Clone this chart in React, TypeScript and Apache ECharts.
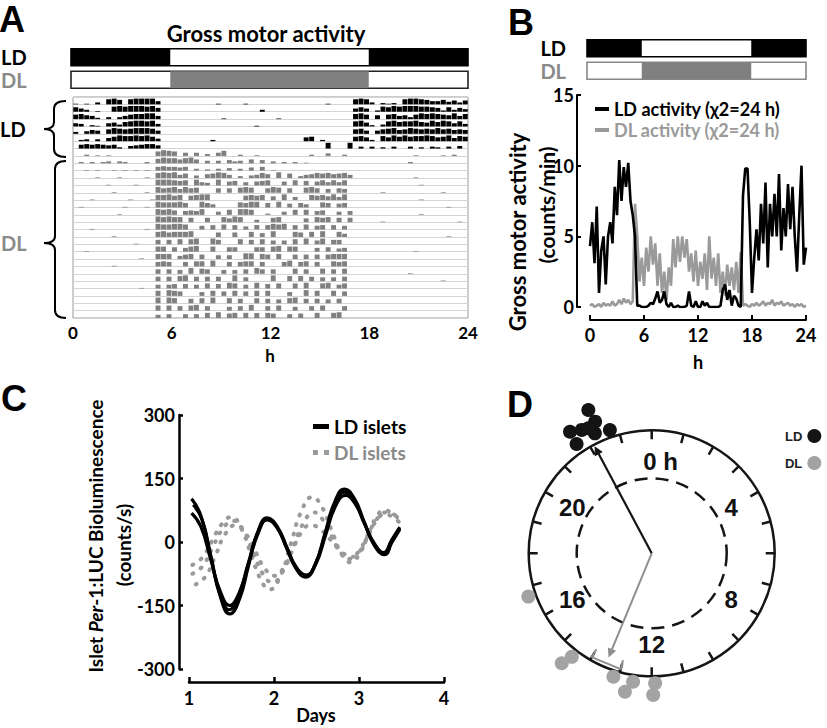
import React, { useEffect, useRef } from 'react';
import * as echarts from 'echarts';

// ---------- Panel A: actogram, 20-min bins (3 per hour), activity height 0-9 ----------
const actoLDRows = [
  '101030 897089 999500 000000 001000 010000 000000 000010 000898 302120 899875 574636',
  '753010 089899 989600 000000 000000 000030 000000 000000 000575 028798 999887 627364',
  '786520 303578 899500 000000 000100 000000 010000 000000 000897 060785 637989 876958',
  '540210 563789 989400 000000 000000 000100 000000 000000 000896 203897 889769 798584',
  '304650 798789 998500 000000 000000 000000 000000 000000 000785 057896 798787 978676',
  '023030 579889 897400 000000 020000 000000 000000 670200 000786 208697 978898 679587',
  '067676 562045 677500 000000 000000 000000 000000 000090 009030 302030 030203 203040',
];
const actoDLRows = [
  '002010 100000 000798 705050 305800 200100 000000 020040 020000 000000 001000 010200',
  '020202 303200 020798 868960 404053 406050 302020 100000 000000 000000 020000 000000',
  '001010 010101 010676 656030 203040 305060 100000 000000 000000 000000 000000 000000',
  '000010 001000 010898 957040 679850 304586 090703 568786 785000 000000 001000 000000',
  '000000 100001 000999 878095 409067 050678 006080 706858 580000 000000 000100 000000',
  '000000 010000 010978 969780 007070 898007 980700 897060 760000 001000 000000 010000',
  '000100 000010 001889 780789 900000 078780 609050 087869 590000 000000 000100 000000',
  '010000 000100 010988 897009 750000 879907 090607 500870 670000 000000 000000 001000',
  '000000 001000 000989 706769 005080 998002 005080 806700 506000 000000 000100 000000',
  '000000 000000 000989 880700 700869 800400 780000 608780 707000 001000 000000 000010',
  '000100 000000 010988 998006 070807 050707 989070 806707 060000 000000 000000 000000',
  '000000 010000 000897 888900 007007 008060 900087 080900 850000 000000 000000 001000',
  '000000 000001 000707 080890 097000 807080 606080 906907 700000 000000 000000 000000',
  '001000 000000 000880 706890 080077 000770 890880 006070 560000 000000 001000 000000',
  '000000 000000 100888 057807 006060 099087 080070 707078 880000 000000 000000 000000',
  '000000 010000 000787 007088 090070 788070 007907 807008 780000 000000 000000 000000',
  '000000 000000 000707 060908 700606 070970 700080 700807 080000 000000 010000 000000',
  '000000 000000 000707 089070 707009 060000 900808 070606 070000 000000 000000 010000',
  '000000 000000 100606 707060 807098 060907 080080 900890 680000 000000 000000 000000',
  '000000 000000 000809 870006 080708 070808 000600 908008 070000 000000 000000 000000',
  '000000 000000 000909 800708 090080 700807 060890 707060 700000 000000 000000 000000',
  '000000 000000 000808 070890 700060 709007 080060 070800 070000 000000 000000 000000',
  '000000 000000 000506 006060 809078 080808 700607 008008 900000 000000 000000 000000',
];
const actoBinsPerHour = 3;

// light schedules (hours of darkness)
const ldDarkSpans = [[0, 6], [18, 24]];
const dlDarkSpans = [[6, 18]];

// ---------- Panel B: mean activity, every 0.25 h ----------
const bStepHours = 0.25;
const bLDActivity = [
  4.3, 6.0, 3.1, 7.1, 1.0, 4.0, 5.0, 1.6, 5.0, 6.0, 4.5, 8.5,
  6.5, 10.4, 7.5, 9.9, 8.5, 10.2, 7.5, 6.5, 5.0, 0.1, 0.1, 0.0,
  0.0, 0.0, 0.1, 0.3, 0.2, 0.6, 1.1, 0.3, 0.5, 1.1, 0.2, 0.0,
  0.3, 0.0, 0.0, 0.1, 0.0, 0.0, 0.0, 0.1, 1.1, 0.1, 0.0, 0.4,
  0.0, 0.0, 0.4, 0.1, 0.3, 0.0, 0.0, 0.0, 0.0, 0.0, 0.1, 1.2,
  1.6, 0.5, 1.2, 0.1, 0.8, 0.6, 0.1, 0.0, 7.9, 9.8, 9.8, 6.0,
  1.0, 3.5, 5.5, 3.3, 7.3, 4.5, 8.8, 2.8, 7.3, 5.0, 8.0, 5.0,
  9.4, 4.0, 7.0, 5.0, 8.7, 5.5, 8.5, 5.0, 2.5, 6.5, 10.0, 3.0,
  4.2,
];
const bDLActivity = [
  0.1, 0.2, 0.0, 0.1, 0.2, 0.0, 0.3, 0.1, 0.2, 0.1, 0.4, 0.1,
  0.2, 0.5, 0.2, 0.6, 0.3, 0.5, 0.2, 0.4, 7.3, 5.0, 1.8, 3.5,
  1.5, 4.2, 2.5, 5.0, 3.0, 4.5, 1.5, 3.8, 1.0, 2.5, 0.5, 2.8,
  1.5, 4.8, 2.8, 5.0, 3.2, 5.0, 3.5, 4.8, 2.5, 3.8, 1.8, 4.0,
  1.5, 3.2, 2.0, 3.8, 1.2, 5.0, 2.0, 3.5, 1.5, 3.8, 1.0, 2.5,
  0.8, 3.0, 1.5, 2.8, 1.2, 3.2, 1.0, 3.9, 0.1, 0.2, 0.1, 0.0,
  0.2, 0.1, 0.3, 0.1, 0.2, 0.4, 0.1, 0.3, 0.2, 0.5, 0.1, 0.3,
  0.2, 0.4, 0.1, 0.2, 0.3, 0.1, 0.2, 0.0, 0.2, 0.1, 0.2, 0.0,
  0.1,
];

// ---------- Panel C: islet bioluminescence [day, counts/s] ----------
const cLDIslets = [
  [[1.03, 102], [1.14, 62], [1.255, -34], [1.37, -130], [1.48, -170], [1.59, -137], [1.70, -56], [1.81, 24], [1.92, 57], [2.03, 37], [2.145, -13], [2.26, -63], [2.37, -83], [2.485, -53], [2.60, 21], [2.715, 95], [2.83, 125], [2.945, 103], [3.06, 48], [3.175, -6], [3.29, -28], [3.385, 3], [3.48, 33]],
  [[1.03, 68], [1.14, 36], [1.255, -41], [1.37, -118], [1.48, -150], [1.59, -120], [1.705, -48], [1.82, 24], [1.93, 55], [2.04, 36], [2.15, -12], [2.26, -61], [2.37, -80], [2.49, -53], [2.605, 15], [2.72, 83], [2.84, 110], [2.955, 90], [3.065, 43], [3.18, -3], [3.29, -25], [3.385, 5], [3.48, 35]],
  [[1.05, 88], [1.155, 52], [1.26, -36], [1.365, -124], [1.47, -160], [1.58, -128], [1.695, -52], [1.81, 24], [1.92, 52], [2.035, 34], [2.15, -13], [2.265, -60], [2.38, -78], [2.49, -50], [2.605, 20], [2.72, 88], [2.83, 118], [2.945, 97], [3.065, 44], [3.18, -7], [3.30, -30], [3.39, 0], [3.48, 30]],
];
const cDLIslets = [
  [[1.04, -54], [1.155, -37], [1.27, 2], [1.385, 42], [1.50, 59], [1.61, 34], [1.725, -26], [1.84, -87], [1.95, -112], [2.075, -80], [2.20, -3], [2.325, 74], [2.45, 106], [2.56, 84], [2.675, 29], [2.79, -26], [2.90, -48], [3.0, -30], [3.10, 14], [3.20, 57], [3.30, 75], [3.39, 68], [3.48, 52]],
  [[1.08, -100], [1.20, -80], [1.315, -30], [1.43, 20], [1.55, 40], [1.66, 22], [1.775, -20], [1.89, -62], [2.00, -80], [2.11, -62], [2.215, -20], [2.32, 22], [2.43, 40], [2.55, 29], [2.675, 3], [2.80, -24], [2.92, -35], [3.015, -20], [3.11, 15], [3.205, 50], [3.30, 65], [3.39, 60], [3.48, 45]],
  [[1.04, -75], [1.16, -57], [1.28, -12], [1.40, 32], [1.52, 50], [1.635, 29], [1.75, -22], [1.865, -74], [1.98, -95], [2.10, -71], [2.225, -12], [2.35, 46], [2.47, 70], [2.57, 54], [2.675, 15], [2.78, -24], [2.88, -40], [2.99, -24], [3.10, 15], [3.21, 54], [3.32, 70], [3.40, 66], [3.48, 55]],
];

// ---------- Panel D: phase of peak [relative radius, hour] ----------
const dLDPhases = [[1.274, 22.41], [1.165, 22.45], [1.191, 21.74], [1.153, 22.03], [1.079, 22.31], [1.058, 22.75], [1.078, 21.70], [1.14, 22.21]];
const dDLPhases = [[1.063, 16.71], [1.063, 14.51], [1.155, 14.62], [1.05, 13.15], [1.055, 12.55], [1.146, 12.73], [1.057, 11.90], [1.152, 11.96]];
const dLDVector = [0.95, 22.13];
const dDLVector = [0.88, 13.5];
const dDLError = [13.0, 14.0];
const dClockHours = [0, 4, 8, 12, 16, 20];
const dClockLabelRadius = 0.745;

const BLACK = '#000000';
const GRAY = '#8a8a8a';
const LINE_GRAY = '#9a9a9a';
const CAL = 'Lato';
const ARIAL = 'Liberation Sans';

function buildActogram() {
  const out: number[][] = [];
  const rows: [string, number][] = [
    ...actoLDRows.map((r) => [r, 0] as [string, number]),
    ...actoDLRows.map((r) => [r, 1] as [string, number]),
  ];
  rows.forEach(([row, kind], i) => {
    const s = row.replace(/ /g, '');
    for (let b = 0; b < s.length; b++) {
      const h = Number(s[b]);
      if (h > 0) out.push([b / actoBinsPerHour, i, h, kind]);
    }
  });
  return out;
}

function buildSchedule() {
  const out: number[][] = [[0, 24, 0, 0], [0, 24, 1, 0]];
  ldDarkSpans.forEach(([s, e]) => out.push([s, e, 0, 1]));
  dlDarkSpans.forEach(([s, e]) => out.push([s, e, 1, 2]));
  return out;
}

function scheduleSeries(idx: number, frameColor: string) {
  return {
    type: 'custom',
    xAxisIndex: idx,
    yAxisIndex: idx,
    silent: true,
    encode: { x: [0, 1], y: 2 },
    data: buildSchedule(),
    renderItem: (params: any, api: any) => {
      const s = api.value(0), e = api.value(1), row = api.value(2), kind = api.value(3);
      const a = api.coord([s, row]);
      const b = api.coord([e, row]);
      const h = api.size([0, 1])[1] * 0.76;
      const fill = kind === 0 ? '#ffffff' : kind === 1 ? BLACK : '#808080';
      const stroke = kind === 0 ? (row === 0 ? BLACK : frameColor) : undefined;
      return {
        type: 'rect',
        shape: { x: a[0], y: a[1] - h / 2, width: b[0] - a[0], height: h },
        style: { fill, stroke, lineWidth: 1.6 },
      };
    },
  };
}

function brace(xr: number, xm: number, xt: number, y0: number, ym: number, y1: number) {
  const st = { stroke: '#000', lineWidth: 2, fill: 'none' };
  return [
    { type: 'bezierCurve', shape: { x1: xr, y1: y0, x2: xm, y2: y0 + 8, cpx1: xm, cpy1: y0 }, style: st },
    { type: 'line', shape: { x1: xm, y1: y0 + 8, x2: xm, y2: ym - 7 }, style: st },
    { type: 'bezierCurve', shape: { x1: xm, y1: ym - 7, x2: xt, y2: ym, cpx1: xm, cpy1: ym }, style: st },
    { type: 'bezierCurve', shape: { x1: xt, y1: ym, x2: xm, y2: ym + 7, cpx1: xm, cpy1: ym }, style: st },
    { type: 'line', shape: { x1: xm, y1: ym + 7, x2: xm, y2: y1 - 8 }, style: st },
    { type: 'bezierCurve', shape: { x1: xm, y1: y1 - 8, x2: xr, y2: y1, cpx1: xm, cpy1: y1 }, style: st },
  ];
}

function txt(text: string, x: number, y: number, size: number, opts: any = {}) {
  return {
    type: 'text',
    x,
    y,
    rotation: opts.rotation || 0,
    style: {
      text,
      fontSize: size,
      fontWeight: 'bold',
      fontFamily: opts.family || CAL,
      fill: opts.color || BLACK,
      align: opts.align || 'center',
      verticalAlign: 'middle',
      rich: opts.rich,
    },
  };
}

export default function App() {
  const ref = useRef<HTMLDivElement>(null);
  useEffect(() => {
    if (!ref.current) return;
    const chart = echarts.init(ref.current, undefined, { renderer: 'svg' });

    const boldLabel = (size: number, family = CAL) => ({
      fontSize: size, fontWeight: 'bold', fontFamily: family, color: BLACK,
    });
    const schedYAxis = (gridIndex: number, align: string, margin: number) => ({
      gridIndex,
      type: 'category',
      data: ['LD', 'DL'],
      inverse: true,
      axisLine: { show: false },
      axisTick: { show: false },
      splitLine: { show: false },
      axisLabel: {
        margin,
        align,
        formatter: (v: string) => (v === 'LD' ? '{ld|LD}' : '{dl|DL}'),
        rich: {
          ld: { color: BLACK, fontSize: 20, fontWeight: 'bold', fontFamily: CAL },
          dl: { color: GRAY, fontSize: 20, fontWeight: 'bold', fontFamily: CAL },
        },
      },
    });
    const hiddenX = (gridIndex: number, min = 0, max = 24) => ({ gridIndex, type: 'value', min, max, show: false });
    const G = { outerBoundsMode: 'none', containLabel: false };

    const option: any = {
      animation: false,
      backgroundColor: '#ffffff',
      textStyle: { fontFamily: CAL },
      grid: [
        { ...G, left: 71, top: 46, width: 397, height: 45 },
        { ...G, left: 73, top: 97, width: 395, height: 221, show: true, borderColor: '#9a9a9a', borderWidth: 1, backgroundColor: '#fff' },
        { ...G, left: 587, top: 37, width: 219, height: 45 },
        { ...G, left: 590, top: 95, width: 216, height: 212 },
        { ...G, left: 189, top: 415, width: 255, height: 254 },
        { ...G, left: 189, top: 672, width: 255, height: 10 },
      ],
      xAxis: [
        hiddenX(0),
        {
          gridIndex: 1, type: 'value', min: 0, max: 24, interval: 6,
          axisLine: { show: false }, axisTick: { show: false }, splitLine: { show: false },
          axisLabel: { ...boldLabel(17), margin: 6 },
        },
        hiddenX(2),
        {
          gridIndex: 3, type: 'value', min: 0, max: 24, interval: 6, offset: 13,
          axisLine: { onZero: false, lineStyle: { color: BLACK, width: 2 } },
          axisTick: { inside: true, length: 5, lineStyle: { color: BLACK, width: 2 } },
          splitLine: { show: false },
          axisLabel: { ...boldLabel(18), margin: 6 },
        },
        hiddenX(4, 1, 4),
        {
          gridIndex: 5, type: 'value', min: 1, max: 4, interval: 1, position: 'bottom',
          axisLine: { onZero: false, lineStyle: { color: BLACK, width: 2.5 } },
          axisTick: { inside: true, length: 5, lineStyle: { color: BLACK, width: 2.5 } },
          splitLine: { show: false },
          axisLabel: { ...boldLabel(18), margin: 7 },
        },
      ],
      yAxis: [
        schedYAxis(0, 'left', 70),
        {
          gridIndex: 1, type: 'value', min: 0, max: 30, interval: 1, inverse: true,
          axisLine: { show: false }, axisTick: { show: false }, axisLabel: { show: false },
          splitLine: { show: true, lineStyle: { color: '#d4d4d4', width: 1 } },
        },
        schedYAxis(2, 'right', 21),
        {
          gridIndex: 3, type: 'value', min: 0, max: 15, interval: 5, offset: 13,
          axisLine: { show: true, onZero: false, lineStyle: { color: BLACK, width: 2 } },
          axisTick: { show: true, inside: true, length: 4, lineStyle: { color: BLACK, width: 2 } },
          splitLine: { show: false },
          axisLabel: { ...boldLabel(18), margin: 3 },
        },
        {
          gridIndex: 4, type: 'value', min: -300, max: 300, interval: 150, offset: 10,
          axisLine: { show: true, onZero: false, lineStyle: { color: BLACK, width: 2.5 } },
          axisTick: { show: true, inside: true, length: 4, lineStyle: { color: BLACK, width: 2.5 } },
          splitLine: { show: false },
          axisLabel: { ...boldLabel(18), margin: 4 },
        },
        { gridIndex: 5, type: 'value', min: 1, max: 2, show: false },
      ],
      polar: [
        { center: [651.7, 553.3], radius: 123 },
        { center: [651.7, 553.3], radius: 75 },
      ],
      angleAxis: [
        {
          polarIndex: 0, type: 'value', min: 0, max: 24, interval: 1, startAngle: 90, clockwise: true,
          axisLine: { lineStyle: { color: '#151515', width: 2.5 } },
          axisTick: { inside: true, length: 9, lineStyle: { color: '#151515', width: 2.5 } },
          splitLine: { show: false },
          axisLabel: { show: false },
        },
        {
          polarIndex: 1, type: 'value', min: 0, max: 24, startAngle: 90, clockwise: true,
          axisLine: { lineStyle: { color: '#151515', width: 2.5, type: [13, 8] } },
          axisTick: { show: false }, axisLabel: { show: false }, splitLine: { show: false },
        },
      ],
      radiusAxis: [
        { polarIndex: 0, type: 'value', min: 0, max: 1, axisLine: { show: false }, axisTick: { show: false }, axisLabel: { show: false }, splitLine: { show: false } },
        { polarIndex: 1, type: 'value', min: 0, max: 1, axisLine: { show: false }, axisTick: { show: false }, axisLabel: { show: false }, splitLine: { show: false } },
      ],
      legend: [
        {
          data: [
            { name: 'LD activity (χ2=24 h)', textStyle: { color: BLACK } },
            { name: 'DL activity (χ2=24 h)', textStyle: { color: LINE_GRAY } },
          ],
          left: 590, top: 95, orient: 'vertical', itemGap: 3, itemWidth: 14, itemHeight: 4, icon: 'rect',
          selectedMode: false,
          textStyle: { fontFamily: CAL, fontSize: 18, fontWeight: 'bold' },
        },
        {
          data: [
            { name: 'LD islets', icon: 'rect', textStyle: { color: BLACK } },
            { name: 'DL islets', icon: 'path://M0,0h4v4h-4z M9,0h4v4h-4z', textStyle: { color: GRAY } },
          ],
          left: 308, top: 412, orient: 'vertical', itemGap: 7, itemWidth: 16, itemHeight: 5,
          selectedMode: false,
          textStyle: { fontFamily: CAL, fontSize: 19, fontWeight: 'bold' },
        },
        {
          data: ['LD', 'DL'],
          left: 780, top: 424, orient: 'vertical', align: 'right', icon: 'circle',
          itemWidth: 14, itemHeight: 14, itemGap: 13, selectedMode: false,
          textStyle: { fontFamily: ARIAL, fontSize: 13, fontWeight: 'bold', color: '#222' },
        },
      ],
      series: [
        scheduleSeries(0, '#222'),
        {
          type: 'custom', xAxisIndex: 1, yAxisIndex: 1, silent: true,
          encode: { x: 0, y: 1 },
          data: buildActogram(),
          renderItem: (params: any, api: any) => {
            const x0 = api.value(0), row = api.value(1), h = api.value(2), kind = api.value(3);
            const p0 = api.coord([x0, row + 1]);
            const p1 = api.coord([x0 + 1 / actoBinsPerHour, row + 1 - h / 11.5]);
            const w = p1[0] - p0[0];
            return {
              type: 'rect',
              shape: { x: p0[0] + w * 0.05, y: p1[1], width: w * 0.9, height: p0[1] - p1[1] },
              style: { fill: kind ? '#808080' : BLACK },
            };
          },
        },
        scheduleSeries(2, '#888'),
        {
          name: 'DL activity (χ2=24 h)', type: 'line', xAxisIndex: 3, yAxisIndex: 3,
          data: bDLActivity.map((v, i) => [i * bStepHours, v]),
          showSymbol: false, symbol: 'none', color: LINE_GRAY, lineStyle: { width: 2.6, color: LINE_GRAY },
        },
        {
          name: 'LD activity (χ2=24 h)', type: 'line', xAxisIndex: 3, yAxisIndex: 3,
          data: bLDActivity.map((v, i) => [i * bStepHours, v]),
          showSymbol: false, symbol: 'none', color: BLACK, lineStyle: { width: 2.6, color: BLACK },
        },
        ...cDLIslets.map((d) => ({
          name: 'DL islets', type: 'line', xAxisIndex: 4, yAxisIndex: 4, data: d, smooth: 0.5,
          showSymbol: false, symbol: 'none', color: LINE_GRAY,
          lineStyle: { width: 4, color: LINE_GRAY, type: [1, 9], cap: 'round' },
        })),
        ...cLDIslets.map((d) => ({
          name: 'LD islets', type: 'line', xAxisIndex: 4, yAxisIndex: 4, data: d, smooth: 0.5,
          showSymbol: false, symbol: 'none', color: BLACK, lineStyle: { width: 3.2, color: BLACK },
        })),
        {
          type: 'scatter', coordinateSystem: 'polar', polarIndex: 0, silent: true, clip: false,
          data: dClockHours.map((h) => ({
            value: [dClockLabelRadius, h],
            label: { formatter: h === 0 ? '0 h' : String(h), offset: h === 0 ? [9, 0] : [0, 0] },
          })),
          symbolSize: 1, itemStyle: { color: 'rgba(0,0,0,0)', opacity: 1 },
          label: {
            show: true, position: 'inside', color: '#111111', opacity: 1,
            fontSize: 24, fontWeight: 'bold', fontFamily: ARIAL,
          },
        },
        {
          type: 'line', coordinateSystem: 'polar', polarIndex: 0, silent: true,
          data: [[0, dDLVector[1]], { value: dDLVector, symbol: 'triangle', symbolSize: 9, symbolRotate: -dDLVector[1] * 15 }],
          symbol: 'none', color: '#8f8f8f', lineStyle: { width: 2, color: '#8f8f8f' },
          itemStyle: { color: '#8f8f8f', opacity: 1 },
        },
        {
          type: 'line', coordinateSystem: 'polar', polarIndex: 0, silent: true,
          data: [[0.9, dDLError[1]], [0.975, dDLError[1]], [0.975, dDLError[0]], [0.9, dDLError[0]]],
          symbol: 'none', lineStyle: { width: 2, color: '#8f8f8f' },
        },
        {
          type: 'line', coordinateSystem: 'polar', polarIndex: 0, silent: true,
          data: [[0, dLDVector[1]], { value: dLDVector, symbol: 'triangle', symbolSize: 9, symbolRotate: -dLDVector[1] * 15 }],
          symbol: 'none', color: '#151515', lineStyle: { width: 2.2, color: '#151515' },
          itemStyle: { color: '#151515', opacity: 1 },
        },
        {
          name: 'LD', type: 'scatter', coordinateSystem: 'polar', polarIndex: 0, clip: false,
          data: dLDPhases, symbolSize: 14, itemStyle: { color: '#141414', opacity: 1 },
        },
        {
          name: 'DL', type: 'scatter', coordinateSystem: 'polar', polarIndex: 0, clip: false,
          data: dDLPhases, symbolSize: 14, itemStyle: { color: '#a3a3a3', opacity: 1 },
        },
      ],
      graphic: [
        txt('A', 12, 19, 36, { family: ARIAL }),
        txt('B', 521, 22, 36, { family: ARIAL }),
        txt('C', 14, 398, 36, { family: ARIAL }),
        txt('D', 520, 404, 36, { family: ARIAL }),
        txt('Gross motor activity', 266, 33, 22),
        txt('LD', 0, 129, 20, { align: 'left' }),
        txt('DL', 1, 243, 20, { align: 'left', color: GRAY }),
        ...brace(66, 54, 44, 101, 129, 157),
        ...brace(66, 55, 44, 161, 243, 318),
        txt('h', 270, 355, 17),
        txt('h', 698, 362, 18),
        txt('Days', 316, 715, 18),
        txt('Gross motor activity', 517, 232, 22, { rotation: Math.PI / 2 }),
        txt('(counts/min)', 546, 205, 21, { rotation: Math.PI / 2 }),
        txt('{n|Islet }{i|Per}{n|-1:LUC Bioluminescence}', 95, 536, 19, {
          rotation: Math.PI / 2,
          rich: {
            n: { fontSize: 19, fontWeight: 'bold', fontFamily: CAL, fill: BLACK },
            i: { fontSize: 19, fontWeight: 'bold', fontStyle: 'italic', fontFamily: CAL, fill: BLACK },
          },
        }),
        txt('(counts/s)', 123, 545, 19, { rotation: Math.PI / 2 }),
      ],
    };
    chart.setOption(option);
    return () => chart.dispose();
  }, []);
  return <div ref={ref} style={{ position: 'fixed', left: 0, top: 0, width: 827, height: 728, background: '#fff' }} />;
}
